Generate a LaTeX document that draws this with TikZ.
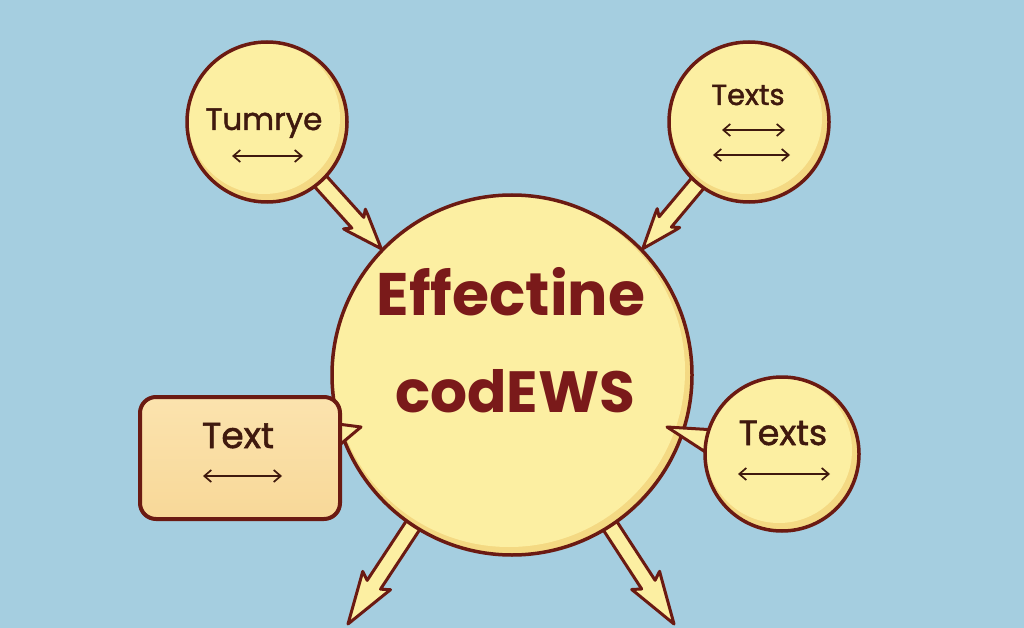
\documentclass[tikz,border=0pt]{standalone}
\usepackage{fontspec}
\setmainfont{Poppins}
\newfontfamily\lblfont[FakeBold=1.5]{Poppins}
\usetikzlibrary{calc,arrows.meta}
\pgfdeclarelayer{bgl}
\pgfdeclarelayer{arr}
\pgfsetlayers{bgl,arr,main}
\definecolor{bg}{HTML}{A5CEE0}
\definecolor{yel}{HTML}{FCEFA2}
\definecolor{rim}{HTML}{F4D983}
\definecolor{peach}{HTML}{F8D898}
\definecolor{peachlt}{HTML}{FBE3AE}
\definecolor{edge}{HTML}{6B1A12}
\definecolor{ink}{HTML}{3F190E}
\definecolor{ttl}{HTML}{7A1A1A}
\tikzset{
  bub/.style={circle, draw=edge, fill=yel, line width=3.5pt, minimum size=#1, inner sep=0pt,
    path picture={\fill[rim] (path picture bounding box.center) circle[radius=#1/2];
                  \fill[yel] ($(path picture bounding box.center)+(-3,-4)$) circle[radius=#1/2-4pt];}},
  boxnode/.style={rectangle, rounded corners=16pt, draw=edge, line width=4pt,
    top color=peachlt, bottom color=peach,
    minimum width=200pt, minimum height=122pt, inner sep=0pt},
  lbl/.style={anchor=base, text=ink, inner sep=0pt},
  ttlbl/.style={anchor=base, text=ttl, inner sep=0pt, font=\bfseries},
  dbl/.style={draw=ink, line width=1.7pt, {Straight Barb[length=7pt,width=12pt]}-{Straight Barb[length=7pt,width=12pt]}},
  fatstyle/.style={draw=edge, fill=yel, line width=3pt, line join=round},
  tailstyle/.style={draw=edge, fill=yel, line width=3pt, line join=round},
  fat/.style={to path={
    let \p1=($(\tikztotarget)-(\tikztostart)$),
        \n1={veclen(\x1,\y1)},
        \n2={atan2(\y1,\x1)},
        \n3={8+#1/6}
    in {[shift={(\tikztostart)}, rotate=\n2]
      (0,-8) -- (\n1-#1+5,-8) -- (\n1-#1,-\n3) -- (\n1-#1+6,-\n3+2) -- (\n1,0)
      -- (\n1-#1+6,\n3-2) -- (\n1-#1,\n3) -- (\n1-#1+5,8) -- (0,8) -- cycle}
  }},
}
\begin{document}
\begin{tikzpicture}[x=1pt,y=-1pt]
\begin{pgfonlayer}{bgl}
\fill[bg] (0,0) rectangle (1024,628);
\end{pgfonlayer}
\useasboundingbox (0,0) rectangle (1024,628);

\coordinate (blend) at (348,624);
\coordinate (brend) at (674,624);

% main circle and bubbles
\node[bub=360pt] (c) at (512,375) {};
\node[bub=160pt] (tl) at (267,122) {};
\node[bub=160pt] (tr) at (749,122) {};

% fat arrows (under the bubbles)
\begin{pgfonlayer}{arr}
\draw[fatstyle] (tl.center) to[fat=40] (c.136);
\draw[fatstyle] (tr.center) to[fat=40] (c.44);
\draw[fatstyle] (c.center) to[fat=52] (blend);
\draw[fatstyle] (c.center) to[fat=52] (brend);
\end{pgfonlayer}

% tails
\draw[tailstyle] (330,423) -- (361,427) -- (336,448) -- cycle;
\node[boxnode] (lr) at (240,458) {};
\draw[tailstyle] (716,430) -- (667,427) -- (710,455) -- cycle;
\node[bub=154pt] (rc) at (782,454) {};

% texts
\node[ttlbl, font=\bfseries\fontsize{60}{60}\selectfont] (t1) at (511,315) {Effectine};
\node[ttlbl] (t2) at (515,412) {\resizebox{240pt}{!}{\fontsize{50}{50}\selectfont codEWS}};

\node[lbl, font=\lblfont\fontsize{31}{31}\selectfont] (tlt) at (264,130) {Tumrye};
\coordinate (tla) at (232,156); \coordinate (tlb) at (303,156);
\draw[dbl] (tla) -- (tlb);

\node[lbl, font=\lblfont\fontsize{29}{29}\selectfont] (trt) at (748,105) {Texts};
\coordinate (tra) at (722,130); \coordinate (trb) at (785,130);
\coordinate (trd) at (713,155); \coordinate (tre) at (790,155);
\draw[dbl] (tra) -- (trb);
\draw[dbl] (trd) -- (tre);

\node[lbl, font=\lblfont\fontsize{35}{35}\selectfont] (rct) at (783,445) {Texts};
\coordinate (rca) at (738,474); \coordinate (rcb) at (830,474);
\draw[dbl] (rca) -- (rcb);

\node[lbl, font=\lblfont\fontsize{36}{36}\selectfont] (lrt) at (238,448) {Text};
\coordinate (lra) at (203,476); \coordinate (lrb) at (282,476);
\draw[dbl] (lra) -- (lrb);
\end{tikzpicture}
\end{document}
